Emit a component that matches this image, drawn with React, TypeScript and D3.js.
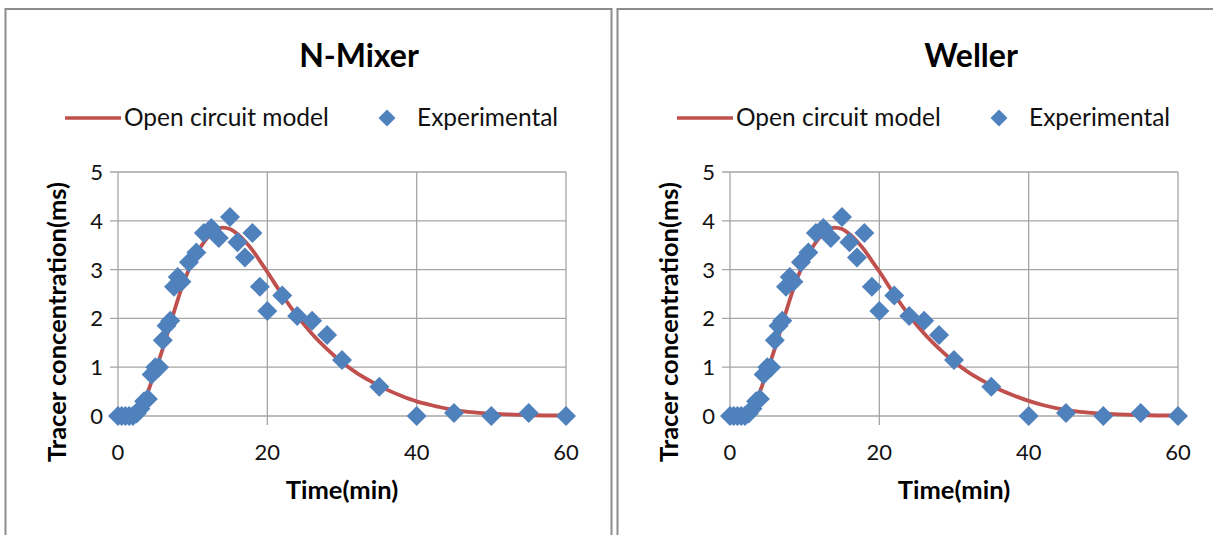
import React from "react";
import * as d3 from "d3";

// Experimental tracer data (same measurements shown in both panels)
const expTime = [0, 0.5, 1, 1.5, 2, 2.5, 3, 3.5, 4, 4.5, 5, 5.5, 6, 6.5, 7, 7.5, 8, 8.5, 9.5, 10.5, 11.5, 12.5, 13.5, 15, 16, 17, 18, 19, 20, 22, 24, 26, 28, 30, 35, 40, 45, 50, 55, 60];
const expConc = [0, 0, 0, 0, 0, 0.05, 0.15, 0.3, 0.35, 0.85, 1.0, 1.0, 1.55, 1.85, 1.95, 2.65, 2.85, 2.75, 3.15, 3.35, 3.75, 3.85, 3.65, 4.08, 3.56, 3.25, 3.75, 2.65, 2.15, 2.47, 2.05, 1.95, 1.66, 1.15, 0.6, 0, 0.06, 0, 0.06, 0];

// Open circuit model curves
const modelTime = [0, 1, 2, 3, 4, 5, 6, 7, 8, 9, 10, 11, 12, 13, 14, 15, 16, 17, 18, 19, 20, 22, 24, 26, 28, 30, 32, 34, 36, 38, 40, 42, 44, 46, 48, 50, 52, 54, 56, 58, 60];
const modelNMixer = [0, 0, 0.03, 0.2, 0.5, 0.93, 1.38, 1.88, 2.38, 2.82, 3.17, 3.45, 3.66, 3.8, 3.86, 3.83, 3.73, 3.58, 3.4, 3.18, 2.95, 2.48, 2.05, 1.68, 1.37, 1.1, 0.88, 0.7, 0.54, 0.41, 0.3, 0.22, 0.15, 0.1, 0.07, 0.05, 0.035, 0.025, 0.015, 0.01, 0.01];
const modelWeller = [0, 0, 0.03, 0.2, 0.5, 0.93, 1.38, 1.88, 2.38, 2.82, 3.17, 3.45, 3.66, 3.8, 3.86, 3.83, 3.73, 3.58, 3.4, 3.18, 2.96, 2.49, 2.06, 1.69, 1.38, 1.11, 0.89, 0.71, 0.55, 0.42, 0.31, 0.22, 0.15, 0.1, 0.07, 0.05, 0.035, 0.025, 0.015, 0.01, 0.01];

const xTicks = [0, 20, 40, 60];
const yTicks = [0, 1, 2, 3, 4, 5];

const panelTitles = ["N-Mixer", "Weller"];
const legendLine = "Open circuit model";
const legendMarker = "Experimental";
const xTitle = "Time(min)";
const yTitle = "Tracer concentration(ms)";

const FONT = "Lato, 'Open Sans', sans-serif";
const RED = "#C0504D";
const BLUE = "#4F81BD";
const GRID = "#A6A6A6";

function diamond(cx: number, cy: number, r: number) {
  return `${cx},${cy - r} ${cx + r},${cy} ${cx},${cy + r} ${cx - r},${cy}`;
}

function Panel({ ox, title, model }: { ox: number; title: string; model: number[] }) {
  const plotLeft = ox + 118;
  const plotRight = ox + 566;
  const plotTop = 172;
  const plotBottom = 416;
  const x = d3.scaleLinear().domain([0, 60]).range([plotLeft, plotRight]);
  const y = d3.scaleLinear().domain([0, 5]).range([plotBottom, plotTop]);
  const line = d3
    .line<number>()
    .x((_, i) => x(modelTime[i]))
    .y((d) => y(d))
    .curve(d3.curveMonotoneX);

  const cx = ox + 359;
  return (
    <g>
      <text x={cx} y={67} textAnchor="middle" fontFamily={FONT} fontWeight="bold" fontSize={32} fill="#000">
        {title}
      </text>
      {/* legend */}
      <line x1={ox + 65} x2={ox + 121} y1={118} y2={118} stroke={RED} strokeWidth={3.5} />
      <text x={ox + 124} y={126} fontFamily={FONT} fontSize={24.5} fill="#111">
        {legendLine}
      </text>
      <polygon points={diamond(ox + 387, 118, 8.5)} fill={BLUE} />
      <text x={ox + 417} y={126} fontFamily={FONT} fontSize={24.5} fill="#111">
        {legendMarker}
      </text>

      {/* grid */}
      {yTicks.map((t) => (
        <line key={"h" + t} x1={plotLeft - 8} x2={plotRight} y1={y(t)} y2={y(t)} stroke={GRID} strokeWidth={1.3} />
      ))}
      {xTicks.map((t) => (
        <line key={"v" + t} x1={x(t)} x2={x(t)} y1={plotTop} y2={plotBottom + 9} stroke={GRID} strokeWidth={1.3} />
      ))}

      {/* tick labels */}
      {yTicks.map((t) => (
        <text key={"yl" + t} x={plotLeft - 15} y={y(t)} dy="0.36em" textAnchor="end" fontFamily={FONT} fontSize={22} fill="#111">
          {t}
        </text>
      ))}
      {xTicks.map((t) => (
        <text key={"xl" + t} x={x(t)} y={460} textAnchor="middle" fontFamily={FONT} fontSize={22} fill="#111">
          {t}
        </text>
      ))}

      {/* axis titles */}
      <text x={ox + 342} y={499} textAnchor="middle" fontFamily={FONT} fontWeight="bold" fontSize={25.5} fill="#000">
        {xTitle}
      </text>
      <text
        transform={`translate(${ox + 66},${322}) rotate(-90)`}
        textAnchor="middle"
        fontFamily={FONT}
        fontWeight="bold"
        fontSize={25.5}
        fill="#000"
      >
        {yTitle}
      </text>

      {/* model */}
      <path d={line(model) || ""} fill="none" stroke={RED} strokeWidth={3.8} />
      {/* experimental */}
      {expTime.map((t, i) => (
        <polygon key={"p" + i} points={diamond(x(t), y(expConc[i]), 10)} fill={BLUE} />
      ))}
    </g>
  );
}

export default function App() {
  return (
    <svg
      width={1213}
      height={535}
      style={{ position: "absolute", left: 0, top: 0, background: "#fff" }}
    >
      <rect x={0} y={0} width={1213} height={535} fill="#fff" />
      <rect x={5.5} y={9} width={606} height={540} fill="#fff" stroke="#8C8C8C" strokeWidth={2} />
      <rect x={617.5} y={9} width={620} height={540} fill="#fff" stroke="#8C8C8C" strokeWidth={2} />
      <Panel ox={0} title={panelTitles[0]} model={modelNMixer} />
      <Panel ox={612} title={panelTitles[1]} model={modelWeller} />
    </svg>
  );
}
